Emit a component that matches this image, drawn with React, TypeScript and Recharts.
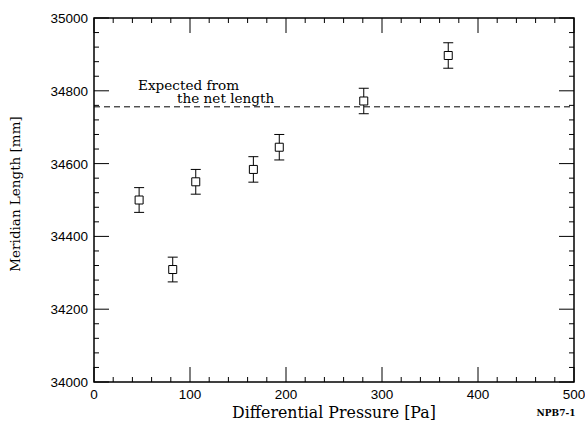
import { ScatterChart, Scatter, XAxis, YAxis, ErrorBar, ReferenceLine } from 'recharts';

// measured points (differential pressure vs meridian length)
const pressure = [47, 82, 106, 166, 193, 281, 369];
const meridianLength = [34500, 34309, 34550, 34584, 34645, 34772, 34897];
const lengthError = [34, 34, 34, 35, 35, 35, 35];

const expectedLength = 34756;

const xTicks = [0, 20, 40, 60, 80, 100, 120, 140, 160, 180, 200, 220, 240, 260, 280, 300, 320, 340, 360, 380, 400, 420, 440, 460, 480, 500];
const yTicks = [
  34000, 34040, 34080, 34120, 34160, 34200, 34240, 34280, 34320, 34360, 34400, 34440, 34480,
  34520, 34560, 34600, 34640, 34680, 34720, 34760, 34800, 34840, 34880, 34920, 34960, 35000,
];

const X_DOMAIN = [0, 500];
const Y_DOMAIN = [34000, 35000];

const data = pressure.map((p, i) => ({ x: p, y: meridianLength[i], err: lengthError[i] }));

const W = 585;
const H = 424;
const M = { top: 18, right: 11, left: 94, bottom: 42 };
const PLOT_W = W - M.left - M.right;
const PLOT_H = H - M.top - M.bottom;

const SERIF = '"DejaVu Serif", serif';
const SANS = '"Liberation Sans", Arial, sans-serif';
const MAJOR = 15;
const MINOR = 5;

const isMajorX = (v: number) => v % 100 === 0;
const isMajorY = (v: number) => v % 200 === 0;

// frame position helpers for the inward tick marks
const px = (v: number) => M.left + ((v - X_DOMAIN[0]) / (X_DOMAIN[1] - X_DOMAIN[0])) * PLOT_W;
const py = (v: number) => M.top + PLOT_H - ((v - Y_DOMAIN[0]) / (Y_DOMAIN[1] - Y_DOMAIN[0])) * PLOT_H;

const BottomTick = (props: any) => {
  const { x, y, payload } = props;
  if (!isMajorX(payload.value)) return <g />;
  return (
    <text x={x} y={y + 17} textAnchor="middle" fontFamily={SANS} fontSize={13.5} fill="#000">
      {payload.value}
    </text>
  );
};

const LeftTick = (props: any) => {
  const { x, y, payload } = props;
  if (!isMajorY(payload.value)) return <g />;
  return (
    <text x={x - 6} y={y + 5} textAnchor="end" fontFamily={SANS} fontSize={13.5} fill="#000">
      {payload.value}
    </text>
  );
};

const Note = (props: any) => {
  const { x, y } = props.viewBox;
  return (
    <g>
      <text x={x + 44} y={y - 17} fontFamily={SERIF} fontSize={13.6} fill="#000">
        Expected from
      </text>
      <text x={x + 83} y={y - 4} fontFamily={SERIF} fontSize={13.6} fill="#000">
        the net length
      </text>
    </g>
  );
};

const Frame = () => {
  const left = px(X_DOMAIN[0]);
  const right = px(X_DOMAIN[1]);
  const top = py(Y_DOMAIN[1]);
  const bottom = py(Y_DOMAIN[0]);
  return (
    <g stroke="#000" fill="none">
      <rect x={left} y={top} width={right - left} height={bottom - top} strokeWidth={1.5} />
      {xTicks.map((v) => {
        const len = isMajorX(v) ? MAJOR : MINOR;
        return (
          <g key={`x${v}`} strokeWidth={1}>
            <line x1={px(v)} y1={bottom} x2={px(v)} y2={bottom - len} />
            <line x1={px(v)} y1={top} x2={px(v)} y2={top + len} />
          </g>
        );
      })}
      {yTicks.map((v) => {
        const len = isMajorY(v) ? MAJOR : MINOR;
        return (
          <g key={`y${v}`} strokeWidth={1}>
            <line x1={left} y1={py(v)} x2={left + len} y2={py(v)} />
            <line x1={right} y1={py(v)} x2={right - len} y2={py(v)} />
          </g>
        );
      })}
    </g>
  );
};

export default function App() {
  const yTitleX = 20;
  const yTitleY = M.top + PLOT_H / 2 - 6;
  return (
    <div style={{ position: 'absolute', left: 0, top: 0, width: W, height: H, background: '#fff' }}>
      <ScatterChart width={W} height={H} margin={{ top: M.top, right: M.right, bottom: 0, left: 0 }}>
        <XAxis
          xAxisId="b"
          type="number"
          dataKey="x"
          domain={X_DOMAIN}
          ticks={xTicks}
          interval={0}
          height={M.bottom}
          tickSize={0}
          tickMargin={0}
          tickLine={false}
          tick={<BottomTick />}
          axisLine={false}
          allowDataOverflow
        />
        <YAxis
          yAxisId="l"
          type="number"
          dataKey="y"
          domain={Y_DOMAIN}
          ticks={yTicks}
          interval={0}
          width={M.left}
          tickSize={0}
          tickMargin={0}
          tickLine={false}
          tick={<LeftTick />}
          axisLine={false}
          allowDataOverflow
        />
        <ReferenceLine
          xAxisId="b"
          yAxisId="l"
          y={expectedLength}
          stroke="#000"
          strokeWidth={1}
          strokeDasharray="6 4"
          label={<Note />}
        />
        <Scatter
          xAxisId="b"
          yAxisId="l"
          data={data}
          shape="square"
          fill="#fff"
          stroke="#000"
          isAnimationActive={false}
        >
          <ErrorBar dataKey="err" direction="y" width={5} stroke="#000" strokeWidth={1} isAnimationActive={false} />
        </Scatter>
      </ScatterChart>
      <svg width={W} height={H} style={{ position: 'absolute', left: 0, top: 0, pointerEvents: 'none' }}>
        <Frame />
        <text x={M.left + PLOT_W / 2} y={H - 6} textAnchor="middle" fontFamily={SERIF} fontSize={15.8} fill="#000">
          Differential Pressure [Pa]
        </text>
        <text x={W - 29} y={H - 8} textAnchor="middle" fontFamily={SERIF} fontSize={9} fontWeight="bold" fill="#000">
          NPB7-1
        </text>
        <text
          x={yTitleX}
          y={yTitleY}
          transform={`rotate(-90 ${yTitleX} ${yTitleY})`}
          textAnchor="middle"
          fontFamily={SERIF}
          fontSize={13.5}
          fill="#000"
        >
          Meridian Length [mm]
        </text>
      </svg>
    </div>
  );
}
